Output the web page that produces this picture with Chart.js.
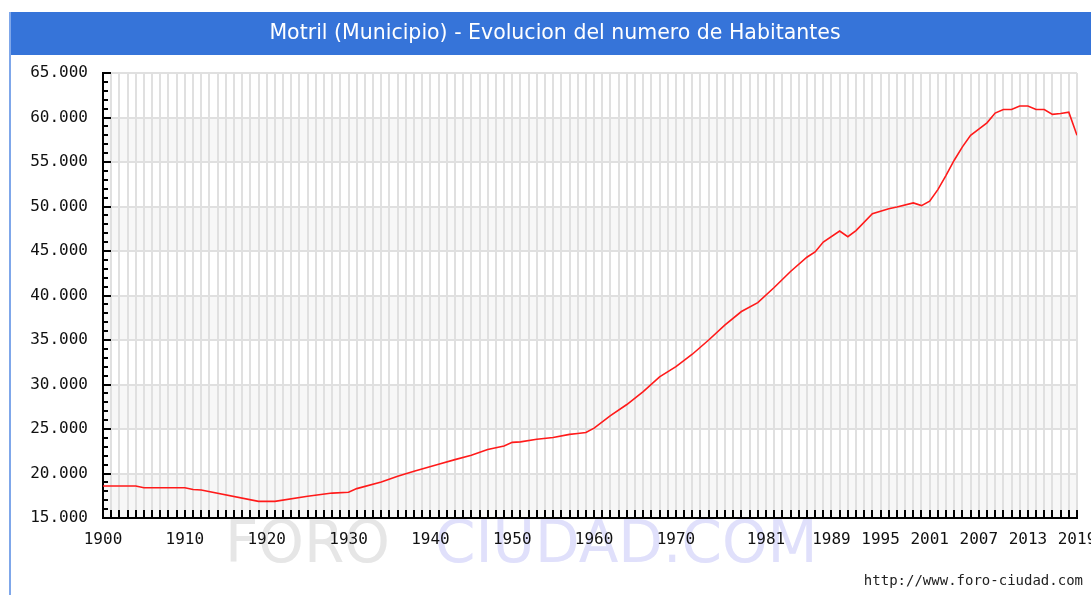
<!DOCTYPE html>
<html>
<head>
<meta charset="utf-8">
<script src="https://cdn.jsdelivr.net/npm/chart.js@4.4.1/dist/chart.umd.min.js"></script>
<style>
  html, body { margin: 0; padding: 0; background: #fff; }
  #wrap { width: 1091px; height: 595px; position: relative; }
</style>
</head>
<body>
<div id="wrap"><canvas id="habitantes" width="1091" height="595"></canvas></div>
<script>
// valores
const years = [1900, 1904, 1905, 1910, 1911, 1912, 1919, 1921, 1925, 1928, 1930, 1931,
  1934, 1936, 1938, 1941, 1943, 1945, 1947, 1949, 1950, 1951, 1953, 1955, 1957, 1958,
  1959, 1960, 1962, 1964, 1966, 1968, 1970, 1972, 1974, 1976, 1978, 1980, 1982, 1984,
  1986, 1987, 1988, 1990, 1991, 1992, 1994, 1996, 1997, 1999, 2000, 2001, 2002, 2003,
  2004, 2005, 2006, 2007, 2008, 2009, 2010, 2011, 2012, 2013, 2014, 2015, 2016, 2017,
  2018, 2019];
const habitantes = [18600, 18600, 18400, 18400, 18200, 18150, 16870, 16870, 17440, 17800, 17900, 18300,
  19050, 19700, 20250, 21030, 21560, 22040, 22700, 23100, 23500, 23550, 23850, 24050, 24400, 24500,
  24600, 25100, 26500, 27750, 29200, 30850, 32000, 33400, 35000, 36700, 38200, 39200, 40900, 42700,
  44300, 44900, 46000, 47250, 46600, 47300, 49200, 49750, 49950, 50400, 50100, 50600, 51900, 53500,
  55200, 56700, 58000, 58700, 59400, 60500, 60900, 60900, 61300, 61300, 60900, 60900, 60350, 60450,
  60600, 58000];
const labelYears = [1900, 1910, 1920, 1930, 1940, 1950, 1960, 1970, 1981, 1989, 1995, 2001, 2007, 2013, 2019];
const yMin = 15000;
const yMax = 65000;

const fmt = (v) => String(v).replace(/\B(?=(\d{3})+(?!\d))/g, '.');

const decoPlugin = {
  id: 'deco',
  beforeDraw(chart) {
    const ctx = chart.ctx;
    const a = chart.chartArea;
    const y = chart.scales.y;
    ctx.save();
    ctx.fillStyle = '#fff';
    ctx.fillRect(0, 0, chart.width, chart.height);
    // barra del titulo
    ctx.fillStyle = '#3674d9';
    ctx.fillRect(10, 12, chart.width - 10, 43);
    ctx.fillStyle = '#7fa7ea';
    ctx.fillRect(9, 12, 2, chart.height - 12);
    ctx.fillStyle = '#fff';
    ctx.font = '20.5px "DejaVu Sans"';
    ctx.textAlign = 'center';
    ctx.textBaseline = 'middle';
    ctx.fillText('Motril (Municipio) - Evolucion del numero de Habitantes', 555, 34);
    // bandas grises
    ctx.fillStyle = '#f7f7f7';
    for (let v = yMin; v < yMax; v += 10000) {
      const top = y.getPixelForValue(v + 5000);
      const bot = y.getPixelForValue(v);
      ctx.fillRect(a.left, top, a.right - a.left, bot - top);
    }
    // marca de agua
    ctx.font = '58px "DejaVu Sans"';
    ctx.textAlign = 'left';
    ctx.textBaseline = 'alphabetic';
    ctx.fillStyle = '#e6e6e6';
    ctx.fillText('FORO', 225, 562);
    ctx.fillStyle = '#e0e0fb';
    ctx.fillText('CIUDAD.COM', 435, 562);
    ctx.restore();
  },
  beforeDatasetsDraw(chart) {
    const ctx = chart.ctx;
    const a = chart.chartArea;
    const x = chart.scales.x;
    const y = chart.scales.y;
    ctx.save();
    ctx.strokeStyle = '#000';
    ctx.lineWidth = 2;
    ctx.beginPath();
    for (let yr = 1900; yr <= 2019; yr++) {
      const px = Math.round(x.getPixelForValue(yr));
      ctx.moveTo(px, a.bottom);
      ctx.lineTo(px, a.bottom - 8);
    }
    for (let v = yMin; v <= yMax; v += 1000) {
      const py = Math.round(y.getPixelForValue(v));
      ctx.moveTo(a.left, py);
      ctx.lineTo(a.left + (v % 5000 === 0 ? 8 : 5), py);
    }
    ctx.stroke();
    ctx.restore();
  },
  afterDraw(chart) {
    const ctx = chart.ctx;
    ctx.save();
    ctx.fillStyle = '#222';
    ctx.font = '14px "DejaVu Sans Mono"';
    ctx.textAlign = 'right';
    ctx.textBaseline = 'middle';
    ctx.fillText('http://www.foro-ciudad.com', 1083, 581);
    ctx.restore();
  }
};

new Chart(document.getElementById('habitantes'), {
  type: 'line',
  data: {
    datasets: [{
      label: 'Habitantes',
      data: years.map((yr, i) => ({ x: yr, y: habitantes[i] })),
      borderColor: '#ff1a1a',
      borderWidth: 1.6,
      fill: false,
      tension: 0,
      pointRadius: 0
    }]
  },
  options: {
    responsive: false,
    animation: false,
    layout: { padding: { left: 10, right: 14, top: 73, bottom: 37 } },
    plugins: {
      legend: { display: false },
      tooltip: { enabled: false }
    },
    scales: {
      x: {
        type: 'linear',
        min: 1900,
        max: 2019,
        afterBuildTicks(axis) {
          const t = [];
          for (let yr = 1900; yr <= 2019; yr++) t.push({ value: yr });
          axis.ticks = t;
        },
        afterFit(axis) {
          axis.height = 40;
          axis.paddingLeft = 0;
          axis.paddingRight = 0;
        },
        grid: { color: '#e0e0e0', lineWidth: 2, drawTicks: false },
        border: { display: true, color: '#000', width: 2 },
        ticks: {
          autoSkip: false,
          maxRotation: 0,
          padding: 12,
          color: '#111',
          font: { family: 'DejaVu Sans Mono', size: 16 },
          callback: (v) => labelYears.includes(v) ? String(v) : ''
        }
      },
      y: {
        min: yMin,
        max: yMax,
        afterFit(axis) {
          axis.width = 93;
          axis.paddingTop = 0;
          axis.paddingBottom = 0;
        },
        grid: { color: '#e0e0e0', lineWidth: 2, drawTicks: false },
        border: { display: true, color: '#000', width: 2 },
        ticks: {
          stepSize: 5000,
          padding: 15,
          color: '#111',
          font: { family: 'DejaVu Sans Mono', size: 16 },
          callback: (v) => fmt(v)
        }
      }
    }
  },
  plugins: [decoPlugin]
});
</script>
</body>
</html>
